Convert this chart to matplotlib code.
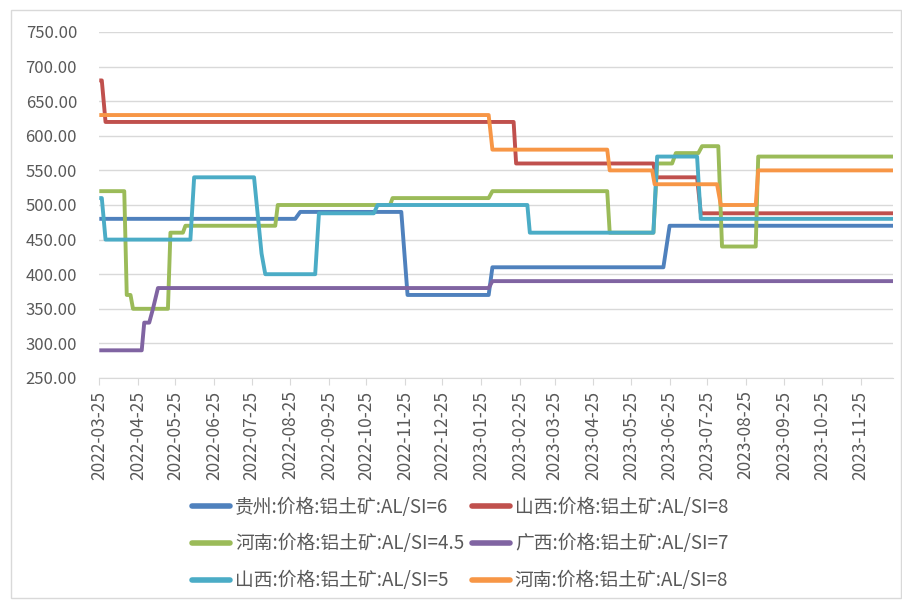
import numpy as np
import pandas as pd
import matplotlib
matplotlib.use("Agg")
import matplotlib.pyplot as plt
import matplotlib.dates as mdates
from matplotlib.patches import Rectangle

plt.rcParams['font.family'] = ['Noto Sans CJK SC', 'DejaVu Sans']

# breakpoints (value holds between listed points)
gz6_dates = ['2022-03-25', '2022-08-29', '2022-09-02', '2022-11-22', '2022-11-27',
             '2023-01-31', '2023-02-03', '2023-06-20', '2023-06-25', '2023-12-21']
gz6_vals = [480, 480, 490, 490, 370, 370, 410, 410, 470, 470]

sx8_dates = ['2022-03-25', '2022-03-27', '2022-03-30', '2023-02-20', '2023-02-22',
             '2023-06-12', '2023-06-14', '2023-07-17', '2023-07-20', '2023-12-21']
sx8_vals = [680, 680, 620, 620, 560, 560, 540, 540, 488, 488]

hn45_dates = ['2022-03-25', '2022-04-14', '2022-04-16', '2022-04-19', '2022-04-21',
              '2022-05-19', '2022-05-21', '2022-05-31', '2022-06-02', '2022-08-13',
              '2022-08-15', '2022-11-13', '2022-11-15', '2023-01-31', '2023-02-03',
              '2023-05-06', '2023-05-08', '2023-06-12', '2023-06-15', '2023-06-27',
              '2023-06-30', '2023-07-18', '2023-07-21', '2023-08-03', '2023-08-06',
              '2023-09-02', '2023-09-04', '2023-12-21']
hn45_vals = [520, 520, 370, 370, 350, 350, 460, 460, 470, 470,
             500, 500, 510, 510, 520, 520, 460, 460, 560, 560,
             575, 575, 585, 585, 440, 440, 570, 570]

gx7_dates = ['2022-03-25', '2022-04-28', '2022-04-30', '2022-05-04', '2022-05-07',
             '2022-05-11', '2023-01-31', '2023-02-03', '2023-12-21']
gx7_vals = [290, 290, 330, 330, 350, 380, 380, 390, 390]

sx5_dates = ['2022-03-25', '2022-03-27', '2022-03-30', '2022-06-06', '2022-06-09',
             '2022-07-27', '2022-08-02', '2022-08-05', '2022-09-14', '2022-09-17',
             '2022-10-31', '2022-11-03', '2023-03-03', '2023-03-05', '2023-06-12',
             '2023-06-15', '2023-07-17', '2023-07-20', '2023-12-21']
sx5_vals = [510, 510, 450, 450, 540, 540, 430, 400, 400, 488,
            488, 500, 500, 460, 460, 570, 570, 480, 480]

hn8_dates = ['2022-03-25', '2023-01-31', '2023-02-03', '2023-05-06', '2023-05-08',
             '2023-06-11', '2023-06-13', '2023-08-02', '2023-08-05', '2023-09-02',
             '2023-09-04', '2023-12-21']
hn8_vals = [630, 630, 580, 580, 550, 550, 530, 530, 500, 500, 550, 550]

series = [
    ('贵州:价格:铝土矿:AL/SI=6', gz6_dates, gz6_vals, '#4F81BD'),
    ('山西:价格:铝土矿:AL/SI=8', sx8_dates, sx8_vals, '#C0504D'),
    ('河南:价格:铝土矿:AL/SI=4.5', hn45_dates, hn45_vals, '#9BBB59'),
    ('广西:价格:铝土矿:AL/SI=7', gx7_dates, gx7_vals, '#8064A2'),
    ('山西:价格:铝土矿:AL/SI=5', sx5_dates, sx5_vals, '#4BACC6'),
    ('河南:价格:铝土矿:AL/SI=8', hn8_dates, hn8_vals, '#F79646'),
]

tick_dates = pd.date_range('2022-03-25', '2023-11-25', freq=pd.DateOffset(months=1))

fig = plt.figure(figsize=(9.02, 6.0), dpi=100)
ax = fig.add_axes([99.3 / 902, 1 - 378 / 600, (893 - 99.3) / 902, (378 - 32) / 600])

lines = {}
for name, d, v, c in series:
    ln, = ax.plot(pd.to_datetime(d), v, color=c, lw=2.8, solid_joinstyle='round',
                  solid_capstyle='butt', label=name)
    lines[name] = ln

ax.set_ylim(250, 750)
ax.set_yticks(np.arange(250, 751, 50))
ax.yaxis.set_major_formatter(matplotlib.ticker.FormatStrFormatter('%.2f'))
ax.set_xlim(pd.Timestamp('2022-03-25'), pd.Timestamp('2023-12-21'))
ax.set_xticks(tick_dates)
ax.xaxis.set_major_formatter(mdates.DateFormatter('%Y-%m-%d'))
plt.setp(ax.get_xticklabels(), rotation=90)

ax.grid(axis='y', color='#D9D9D9', lw=1)
ax.set_axisbelow(True)
for s in ['top', 'right', 'left']:
    ax.spines[s].set_visible(False)
ax.spines['bottom'].set_color('#D9D9D9')
ax.tick_params(axis='y', length=0, pad=16, labelsize=12, labelcolor='#595959')
ax.tick_params(axis='x', length=5, color='#D9D9D9', labelsize=12.5, labelcolor='#595959', pad=4)

names = [s[0] for s in series]
order = [0, 2, 4, 1, 3, 5]
leg = fig.legend([lines[names[i]] for i in order], [names[i] for i in order],
                 ncol=2, loc='center', bbox_to_anchor=(460 / 902, 1 - 544 / 600),
                 frameon=False, fontsize=13.5, handlelength=2.05, handletextpad=0.25,
                 columnspacing=0.4, labelspacing=0.85)
for t in leg.get_texts():
    t.set_color('#595959')
for h in leg.get_lines():
    h.set_linewidth(4)
    h.set_solid_capstyle('round')

fig.add_artist(Rectangle((11 / 902, 1 - 598 / 600), 890 / 902, 588 / 600,
                         transform=fig.transFigure, fill=False, edgecolor='#D9D9D9', lw=1))

fig.savefig('out.png', dpi=100)
